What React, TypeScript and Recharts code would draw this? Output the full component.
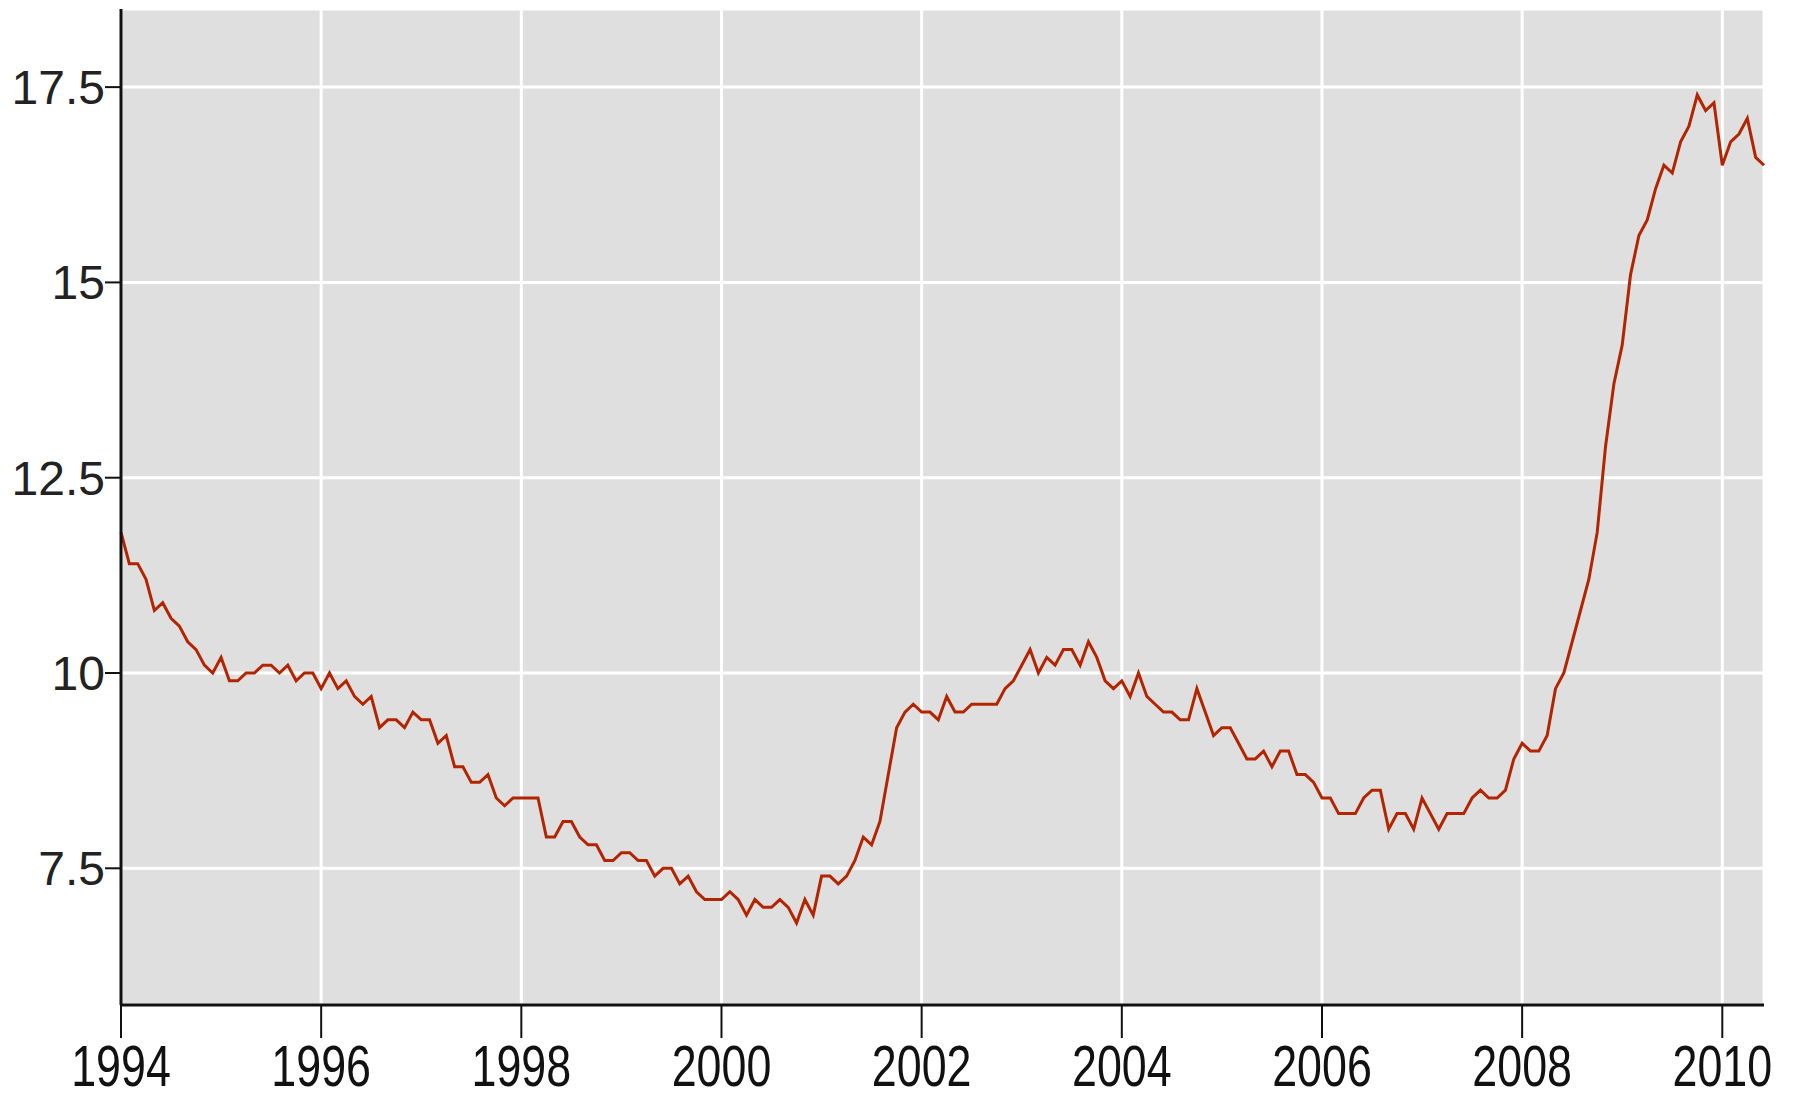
import React from 'react';
import { LineChart, Line, XAxis, YAxis, CartesianGrid } from 'recharts';

// monthly rate, Jan..Dec of each year
const startYear = 1994;
const y1994 = [11.8, 11.4, 11.4, 11.2, 10.8, 10.9, 10.7, 10.6, 10.4, 10.3, 10.1, 10.0];
const y1995 = [10.2, 9.9, 9.9, 10.0, 10.0, 10.1, 10.1, 10.0, 10.1, 9.9, 10.0, 10.0];
const y1996 = [9.8, 10.0, 9.8, 9.9, 9.7, 9.6, 9.7, 9.3, 9.4, 9.4, 9.3, 9.5];
const y1997 = [9.4, 9.4, 9.1, 9.2, 8.8, 8.8, 8.6, 8.6, 8.7, 8.4, 8.3, 8.4];
const y1998 = [8.4, 8.4, 8.4, 7.9, 7.9, 8.1, 8.1, 7.9, 7.8, 7.8, 7.6, 7.6];
const y1999 = [7.7, 7.7, 7.6, 7.6, 7.4, 7.5, 7.5, 7.3, 7.4, 7.2, 7.1, 7.1];
const y2000 = [7.1, 7.2, 7.1, 6.9, 7.1, 7.0, 7.0, 7.1, 7.0, 6.8, 7.1, 6.9];
const y2001 = [7.4, 7.4, 7.3, 7.4, 7.6, 7.9, 7.8, 8.1, 8.7, 9.3, 9.5, 9.6];
const y2002 = [9.5, 9.5, 9.4, 9.7, 9.5, 9.5, 9.6, 9.6, 9.6, 9.6, 9.8, 9.9];
const y2003 = [10.1, 10.3, 10.0, 10.2, 10.1, 10.3, 10.3, 10.1, 10.4, 10.2, 9.9, 9.8];
const y2004 = [9.9, 9.7, 10.0, 9.7, 9.6, 9.5, 9.5, 9.4, 9.4, 9.8, 9.5, 9.2];
const y2005 = [9.3, 9.3, 9.1, 8.9, 8.9, 9.0, 8.8, 9.0, 9.0, 8.7, 8.7, 8.6];
const y2006 = [8.4, 8.4, 8.2, 8.2, 8.2, 8.4, 8.5, 8.5, 8.0, 8.2, 8.2, 8.0];
const y2007 = [8.4, 8.2, 8.0, 8.2, 8.2, 8.2, 8.4, 8.5, 8.4, 8.4, 8.5, 8.9];
const y2008 = [9.1, 9.0, 9.0, 9.2, 9.8, 10.0, 10.4, 10.8, 11.2, 11.8, 12.9, 13.7];
const y2009 = [14.2, 15.1, 15.6, 15.8, 16.2, 16.5, 16.4, 16.8, 17.0, 17.4, 17.2, 17.3];
const y2010 = [16.5, 16.8, 16.9, 17.1, 16.6, 16.5];

const yearTicks = [1994, 1996, 1998, 2000, 2002, 2004, 2006, 2008, 2010];
const rateTicks = [7.5, 10, 12.5, 15, 17.5];
const rateDomain = [5.75, 18.5];

const monthly = [
  ...y1994, ...y1995, ...y1996, ...y1997, ...y1998, ...y1999, ...y2000, ...y2001, ...y2002,
  ...y2003, ...y2004, ...y2005, ...y2006, ...y2007, ...y2008, ...y2009, ...y2010,
];
const data = monthly.map((rate, i) => ({ t: startYear + i / 12, rate }));
const lastT = data[data.length - 1].t;

const frame = { stroke: '#111', strokeWidth: 3 };

// narrow, tall year labels like the original
const YearTick = (props: any) => {
  const { x, y, payload } = props;
  return (
    <g transform={`translate(${x},${y})`}>
      <text
        transform="scale(0.8,1.02)"
        y={39}
        textAnchor="middle"
        fontSize={56}
        fontFamily="'Liberation Sans', Arial, sans-serif"
        fill="#111"
      >
        {payload.value}
      </text>
    </g>
  );
};

const App: React.FC = () => {
  return (
    <div style={{ position: 'absolute', left: 0, top: 0, width: 1795, height: 1099, background: '#fff' }}>
      <LineChart width={1795} height={1099} data={data} margin={{ top: 9, right: 31, bottom: 0, left: 0 }}>
        <CartesianGrid fill="#dfdfdf" fillOpacity={1} stroke="#fff" strokeWidth={3} />
        <XAxis
          dataKey="t"
          type="number"
          domain={[startYear, lastT]}
          ticks={yearTicks}
          interval={0}
          height={94}
          tickSize={33}
          tickMargin={8}
          tick={<YearTick />}
          axisLine={frame}
          tickLine={{ stroke: '#111', strokeWidth: 2 }}
        />
        <XAxis
          xAxisId="top"
          orientation="top"
          dataKey="t"
          type="number"
          domain={[startYear, lastT]}
          height={0}
          tick={false}
          tickLine={false}
          axisLine={frame}
        />
        <YAxis
          type="number"
          domain={rateDomain}
          ticks={rateTicks}
          interval={0}
          width={121}
          tickSize={16}
          tickMargin={0}
          tick={{ fontSize: 48, fontFamily: "'Liberation Sans', Arial, sans-serif", fill: '#222' }}
          axisLine={frame}
          tickLine={{ stroke: '#111', strokeWidth: 2 }}
        />
        <YAxis
          yAxisId="r"
          orientation="right"
          type="number"
          domain={rateDomain}
          width={0}
          tick={false}
          tickLine={false}
          axisLine={frame}
        />
        <Line
          type="linear"
          dataKey="rate"
          stroke="#b32400"
          strokeWidth={3}
          dot={false}
          isAnimationActive={false}
        />
      </LineChart>
    </div>
  );
};

export default App;
